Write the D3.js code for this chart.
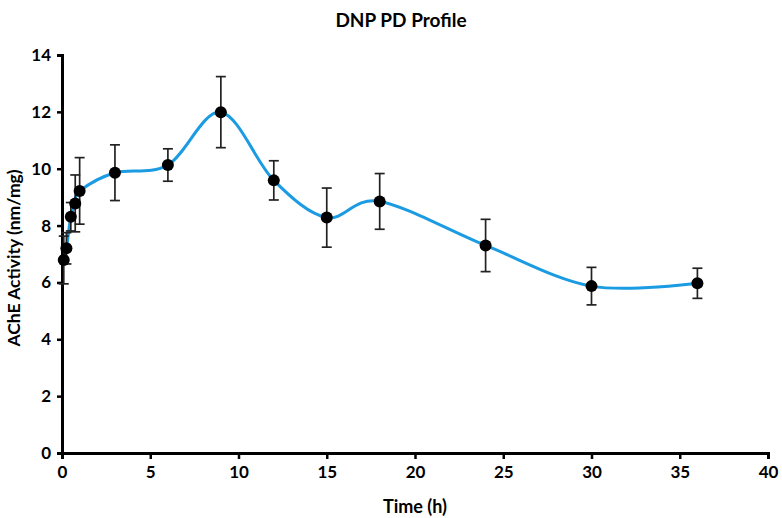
<!DOCTYPE html>
<html>
<head>
<meta charset="utf-8">
<script src="https://cdn.jsdelivr.net/npm/d3@7"></script>
<style>
  html, body { margin: 0; padding: 0; background: #fff; }
  svg { display: block; }
  text { font-family: Lato, "Open Sans", sans-serif; font-weight: bold; fill: #000; }
</style>
</head>
<body>
<script>
// Data
const times  = [0.1, 0.25, 0.5, 0.75, 1, 3, 6, 9, 12, 15, 18, 24, 30, 36];
const values = [6.79, 7.20, 8.31, 8.78, 9.22, 9.86, 10.13, 11.99, 9.59, 8.28, 8.85, 7.30, 5.87, 5.97];
const errors = [0.84, 0.55, 0.50, 1.00, 1.17, 0.98, 0.57, 1.25, 0.69, 1.04, 0.98, 0.92, 0.66, 0.53];
const xTicks = [0, 5, 10, 15, 20, 25, 30, 35, 40];
const yTicks = [0, 2, 4, 6, 8, 10, 12, 14];

const W = 782, H = 518;
const m = { left: 62, right: 14, top: 55, bottom: 65 };

const svg = d3.select("body").append("svg").attr("width", W).attr("height", H);

const x = d3.scaleLinear().domain([0, 40]).range([m.left, W - m.right]);
const y = d3.scaleLinear().domain([0, 14]).range([H - m.bottom, m.top]);

// Axes
const xAxis = svg.append("g").attr("transform", `translate(0,${y(0)})`)
  .call(d3.axisBottom(x).tickValues(xTicks).tickSize(6).tickPadding(7).tickFormat(d3.format("d")));
const yAxis = svg.append("g").attr("transform", `translate(${x(0)},0)`)
  .call(d3.axisLeft(y).tickValues(yTicks).tickSize(5).tickPadding(6).tickFormat(d3.format("d")));
[xAxis, yAxis].forEach(g => {
  g.select(".domain").attr("stroke", "#000").attr("stroke-width", 3);
  g.selectAll(".tick line").attr("stroke", "#000").attr("stroke-width", 2.5);
  g.selectAll(".tick text").style("font-size", "17px").style("font-family", "Lato, 'Open Sans', sans-serif").style("font-weight", "bold");
});

// Smoothed line
const pts = times.map((t, i) => ({ t, v: values[i], e: errors[i] }));
const line = d3.line().x(d => x(d.t)).y(d => y(d.v)).curve(d3.curveCardinal.tension(0));
svg.append("path").datum(pts).attr("d", line)
  .attr("fill", "none").attr("stroke", "#1a9be2").attr("stroke-width", 3);

// Error bars
const eb = svg.append("g").attr("stroke", "#222").attr("stroke-width", 1.7);
pts.forEach(d => {
  eb.append("line").attr("x1", x(d.t)).attr("x2", x(d.t)).attr("y1", y(d.v - d.e)).attr("y2", y(d.v + d.e));
  eb.append("line").attr("x1", x(d.t) - 5).attr("x2", x(d.t) + 5).attr("y1", y(d.v - d.e)).attr("y2", y(d.v - d.e));
  eb.append("line").attr("x1", x(d.t) - 5).attr("x2", x(d.t) + 5).attr("y1", y(d.v + d.e)).attr("y2", y(d.v + d.e));
});

// Markers
svg.append("g").selectAll("circle").data(pts).join("circle")
  .attr("cx", d => x(d.t)).attr("cy", d => y(d.v)).attr("r", 6).attr("fill", "#000");

// Titles
svg.append("text").attr("x", 401).attr("y", 27).attr("text-anchor", "middle")
  .style("font-size", "19px").text("DNP PD Profile");
svg.append("text").attr("x", 415).attr("y", 513).attr("text-anchor", "middle")
  .style("font-size", "18px").text("Time (h)");
svg.append("text").attr("transform", `translate(20,258) rotate(-90)`)
  .attr("text-anchor", "middle").style("font-size", "17.5px").text("AChE Activity (nm/mg)");
</script>
</body>
</html>
